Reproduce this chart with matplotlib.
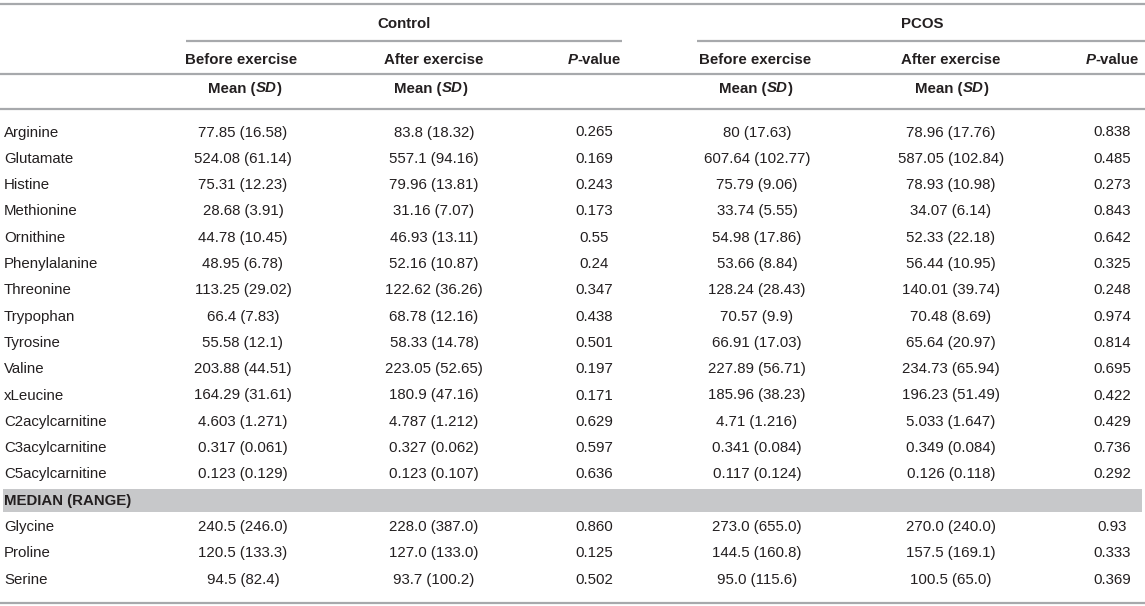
import matplotlib.pyplot as plt
from matplotlib.patches import Rectangle

plt.rcParams["font.family"] = ["Liberation Sans", "DejaVu Sans"]

TEXT = "#231f20"
RULE = "#a7a9ac"
BAND = "#c7c8ca"
FS = 10.8

names = ["Arginine", "Glutamate", "Histine", "Methionine", "Ornithine",
         "Phenylalanine", "Threonine", "Trypophan", "Tyrosine", "Valine",
         "xLeucine", "C2acylcarnitine", "C3acylcarnitine", "C5acylcarnitine"]
ctrl_before = ["77.85 (16.58)", "524.08 (61.14)", "75.31 (12.23)", "28.68 (3.91)",
               "44.78 (10.45)", "48.95 (6.78)", "113.25 (29.02)", "66.4 (7.83)",
               "55.58 (12.1)", "203.88 (44.51)", "164.29 (31.61)", "4.603 (1.271)",
               "0.317 (0.061)", "0.123 (0.129)"]
ctrl_after = ["83.8 (18.32)", "557.1 (94.16)", "79.96 (13.81)", "31.16 (7.07)",
              "46.93 (13.11)", "52.16 (10.87)", "122.62 (36.26)", "68.78 (12.16)",
              "58.33 (14.78)", "223.05 (52.65)", "180.9 (47.16)", "4.787 (1.212)",
              "0.327 (0.062)", "0.123 (0.107)"]
ctrl_p = ["0.265", "0.169", "0.243", "0.173", "0.55", "0.24", "0.347", "0.438",
          "0.501", "0.197", "0.171", "0.629", "0.597", "0.636"]
pcos_before = ["80 (17.63)", "607.64 (102.77)", "75.79 (9.06)", "33.74 (5.55)",
               "54.98 (17.86)", "53.66 (8.84)", "128.24 (28.43)", "70.57 (9.9)",
               "66.91 (17.03)", "227.89 (56.71)", "185.96 (38.23)", "4.71 (1.216)",
               "0.341 (0.084)", "0.117 (0.124)"]
pcos_after = ["78.96 (17.76)", "587.05 (102.84)", "78.93 (10.98)", "34.07 (6.14)",
              "52.33 (22.18)", "56.44 (10.95)", "140.01 (39.74)", "70.48 (8.69)",
              "65.64 (20.97)", "234.73 (65.94)", "196.23 (51.49)", "5.033 (1.647)",
              "0.349 (0.084)", "0.126 (0.118)"]
pcos_p = ["0.838", "0.485", "0.273", "0.843", "0.642", "0.325", "0.248", "0.974",
          "0.814", "0.695", "0.422", "0.429", "0.736", "0.292"]

med_names = ["Glycine", "Proline", "Serine"]
med_ctrl_before = ["240.5 (246.0)", "120.5 (133.3)", "94.5 (82.4)"]
med_ctrl_after = ["228.0 (387.0)", "127.0 (133.0)", "93.7 (100.2)"]
med_ctrl_p = ["0.860", "0.125", "0.502"]
med_pcos_before = ["273.0 (655.0)", "144.5 (160.8)", "95.0 (115.6)"]
med_pcos_after = ["270.0 (240.0)", "157.5 (169.1)", "100.5 (65.0)"]
med_pcos_p = ["0.93", "0.333", "0.369"]

W, H = 1145, 606
fig = plt.figure(figsize=(W / 100, H / 100), dpi=100)
ax = fig.add_axes([0, 0, 1, 1])
ax.set_xlim(0, W)
ax.set_ylim(H, 0)
ax.axis("off")
renderer = fig.canvas.get_renderer()


def rich(x, y, parts):
    # parts: list of (text, style); drawn side by side, centred on x
    arts = [ax.text(0, y, t, fontsize=FS, color=TEXT, fontweight="bold",
                    style=s, va="center", ha="left") for t, s in parts]
    widths = [a.get_window_extent(renderer).width for a in arts]
    cur = x - sum(widths) / 2
    for a, w in zip(arts, widths):
        a.set_x(cur)
        cur += w


def rule(y, x0=0, x1=W):
    ax.plot([x0, x1], [y, y], color=RULE, lw=1.6, solid_capstyle="butt")


cols = [243, 434, 594, 757, 951, 1112]

# header
rule(3.5)
ax.text(404, 23.5, "Control", fontsize=FS, color=TEXT, fontweight="bold", ha="center", va="center")
ax.text(922, 23.5, "PCOS", fontsize=FS, color=TEXT, fontweight="bold", ha="center", va="center")
rule(41, 186, 622)
rule(41, 697, W)
for cx, lab in zip([241, 434, 755, 951], ["Before exercise", "After exercise"] * 2):
    ax.text(cx, 60, lab, fontsize=FS, color=TEXT, fontweight="bold", ha="center", va="center")
for cx in [594, 1112]:
    rich(cx, 60, [("P", "italic"), ("-value", "normal")])
rule(74)
for cx in [245, 431, 756, 952]:
    rich(cx, 88.5, [("Mean (", "normal"), ("SD", "italic"), (")", "normal")])
rule(109)

# body
y0, dy = 132.5, 26.3
table = [ctrl_before, ctrl_after, ctrl_p, pcos_before, pcos_after, pcos_p]
for i, name in enumerate(names):
    y = y0 + i * dy
    ax.text(4, y, name, fontsize=FS, color=TEXT, va="center", ha="left")
    for cx, col in zip(cols, table):
        ax.text(cx, y, col[i], fontsize=FS, color=TEXT, va="center", ha="center")

yb = y0 + len(names) * dy
ax.add_patch(Rectangle((3, yb - 11.5), 1139, 23, color=BAND, lw=0))
ax.text(4, yb, "MEDIAN (RANGE)", fontsize=FS, color=TEXT, fontweight="bold", va="center", ha="left")

med_table = [med_ctrl_before, med_ctrl_after, med_ctrl_p,
             med_pcos_before, med_pcos_after, med_pcos_p]
for i, name in enumerate(med_names):
    y = yb + (i + 1) * dy
    ax.text(4, y, name, fontsize=FS, color=TEXT, va="center", ha="left")
    for cx, col in zip(cols, med_table):
        ax.text(cx, y, col[i], fontsize=FS, color=TEXT, va="center", ha="center")

rule(603)

fig.savefig("out.png", dpi=100, facecolor="white")
